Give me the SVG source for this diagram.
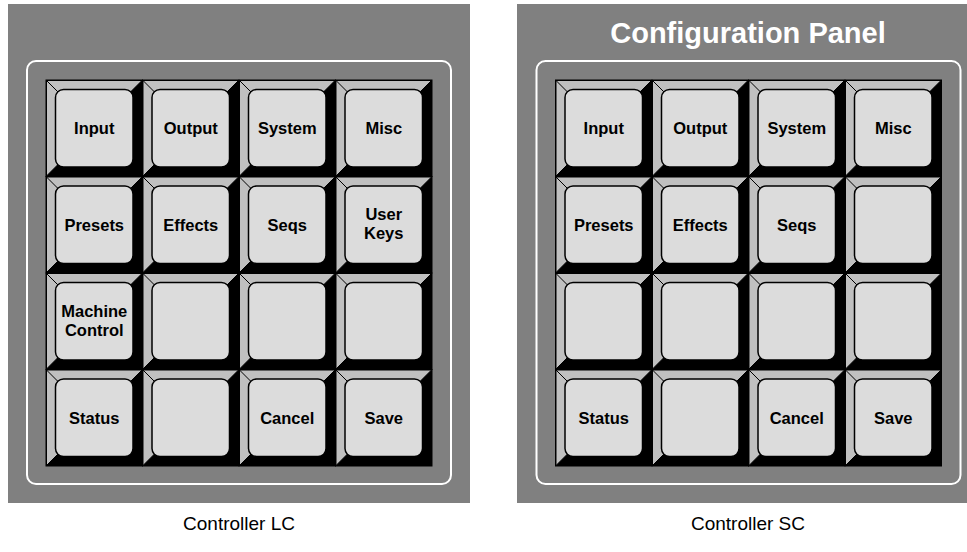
<svg xmlns="http://www.w3.org/2000/svg" xmlns:xlink="http://www.w3.org/1999/xlink" width="967" height="552" viewBox="0 0 967 552">
<style>
.panel{fill:#808080}
.frame{fill:none;stroke:#ffffff;stroke-width:2}
.k{font-family:"Liberation Sans",Arial,sans-serif;font-weight:bold;font-size:16.5px;fill:#000;text-anchor:middle}
.cap{font-family:"Liberation Sans",Arial,sans-serif;font-size:19px;fill:#000;text-anchor:middle}
.title{font-family:"Liberation Sans",Arial,sans-serif;font-weight:bold;font-size:29px;fill:#fff;text-anchor:middle}
</style>
<defs>
<g id="key">
<rect x="0" y="0" width="96.5" height="96.5" fill="#000"/>
<polygon points="0.5,0.5 96,0.5 84.7,11.8 11.8,11.8 11.8,84.7 0.5,96" fill="#c0c0c0" stroke="#000" stroke-width="1"/>
<line x1="0.5" y1="0.5" x2="11.8" y2="11.8" stroke="#000" stroke-width="1"/>
<rect x="9.5" y="9.5" width="77.5" height="77.5" rx="8" fill="#dcdcdc" stroke="#000" stroke-width="1.5"/>
<rect x="0" y="0" width="96.5" height="96.5" fill="none" stroke="#000" stroke-width="1"/>
</g>
</defs>

<g id="panel-lc">
<rect class="panel" x="8" y="4" width="462" height="499"/>
<rect class="frame" x="27" y="61" width="424" height="423" rx="9"/>
<rect x="46" y="80" width="386" height="386" fill="#000"/>
</g>
<g id="panel-sc">
<rect class="panel" x="517" y="4" width="450" height="499"/>
<rect class="frame" x="536.5" y="61" width="424" height="423" rx="9"/>
<rect x="555.5" y="80" width="386" height="386" fill="#000"/>
<text class="title" x="748" y="43">Configuration Panel</text>
</g>

<g id="keys-lc">
<g id="lc-input"><use xlink:href="#key" x="46" y="80"/><text class="k" x="94.25" y="134.25">Input</text></g>
<g id="lc-output"><use xlink:href="#key" x="142.5" y="80"/><text class="k" x="190.75" y="134.25">Output</text></g>
<g id="lc-system"><use xlink:href="#key" x="239" y="80"/><text class="k" x="287.25" y="134.25">System</text></g>
<g id="lc-misc"><use xlink:href="#key" x="335.5" y="80"/><text class="k" x="383.75" y="134.25">Misc</text></g>
<g id="lc-presets"><use xlink:href="#key" x="46" y="176.5"/><text class="k" x="94.25" y="230.75">Presets</text></g>
<g id="lc-effects"><use xlink:href="#key" x="142.5" y="176.5"/><text class="k" x="190.75" y="230.75">Effects</text></g>
<g id="lc-seqs"><use xlink:href="#key" x="239" y="176.5"/><text class="k" x="287.25" y="230.75">Seqs</text></g>
<g id="lc-userkeys"><use xlink:href="#key" x="335.5" y="176.5"/><text class="k" x="383.75" y="220">User</text><text class="k" x="383.75" y="239">Keys</text></g>
<g id="lc-machine"><use xlink:href="#key" x="46" y="273"/><text class="k" x="94.25" y="316.75">Machine</text><text class="k" x="94.25" y="335.75">Control</text></g>
<g id="lc-blank1"><use xlink:href="#key" x="142.5" y="273"/></g>
<g id="lc-blank2"><use xlink:href="#key" x="239" y="273"/></g>
<g id="lc-blank3"><use xlink:href="#key" x="335.5" y="273"/></g>
<g id="lc-status"><use xlink:href="#key" x="46" y="369.5"/><text class="k" x="94.25" y="423.75">Status</text></g>
<g id="lc-blank4"><use xlink:href="#key" x="142.5" y="369.5"/></g>
<g id="lc-cancel"><use xlink:href="#key" x="239" y="369.5"/><text class="k" x="287.25" y="423.75">Cancel</text></g>
<g id="lc-save"><use xlink:href="#key" x="335.5" y="369.5"/><text class="k" x="383.75" y="423.75">Save</text></g>
</g>

<g id="keys-sc">
<g id="sc-input"><use xlink:href="#key" x="555.5" y="80"/><text class="k" x="603.75" y="134.25">Input</text></g>
<g id="sc-output"><use xlink:href="#key" x="652" y="80"/><text class="k" x="700.25" y="134.25">Output</text></g>
<g id="sc-system"><use xlink:href="#key" x="748.5" y="80"/><text class="k" x="796.75" y="134.25">System</text></g>
<g id="sc-misc"><use xlink:href="#key" x="845" y="80"/><text class="k" x="893.25" y="134.25">Misc</text></g>
<g id="sc-presets"><use xlink:href="#key" x="555.5" y="176.5"/><text class="k" x="603.75" y="230.75">Presets</text></g>
<g id="sc-effects"><use xlink:href="#key" x="652" y="176.5"/><text class="k" x="700.25" y="230.75">Effects</text></g>
<g id="sc-seqs"><use xlink:href="#key" x="748.5" y="176.5"/><text class="k" x="796.75" y="230.75">Seqs</text></g>
<g id="sc-blank1"><use xlink:href="#key" x="845" y="176.5"/></g>
<g id="sc-blank2"><use xlink:href="#key" x="555.5" y="273"/></g>
<g id="sc-blank3"><use xlink:href="#key" x="652" y="273"/></g>
<g id="sc-blank4"><use xlink:href="#key" x="748.5" y="273"/></g>
<g id="sc-blank5"><use xlink:href="#key" x="845" y="273"/></g>
<g id="sc-status"><use xlink:href="#key" x="555.5" y="369.5"/><text class="k" x="603.75" y="423.75">Status</text></g>
<g id="sc-blank6"><use xlink:href="#key" x="652" y="369.5"/></g>
<g id="sc-cancel"><use xlink:href="#key" x="748.5" y="369.5"/><text class="k" x="796.75" y="423.75">Cancel</text></g>
<g id="sc-save"><use xlink:href="#key" x="845" y="369.5"/><text class="k" x="893.25" y="423.75">Save</text></g>
</g>

<g id="captions">
<text class="cap" x="239" y="530">Controller LC</text>
<text class="cap" x="748" y="530">Controller SC</text>
</g>
<g id="connectors"/>
</svg>
